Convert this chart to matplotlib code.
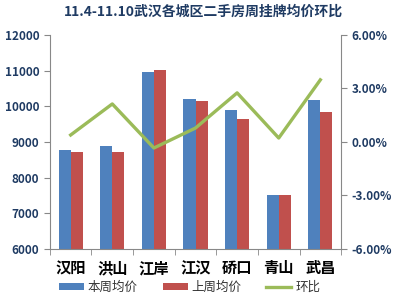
import matplotlib.pyplot as plt
import numpy as np
from matplotlib.ticker import FuncFormatter

plt.rcParams['font.family'] = ['Noto Sans CJK SC', 'DejaVu Sans']

districts = ['汉阳', '洪山', '江岸', '江汉', '硚口', '青山', '武昌']
this_week = [8775, 8890, 10960, 10200, 9900, 7510, 10180]
last_week = [8720, 8720, 11020, 10150, 9640, 7510, 9840]
ratio = [0.39, 2.13, -0.34, 0.78, 2.75, 0.22, 3.48]

blue = '#4F81BD'
red = '#C0504D'
green = '#9BBB59'
navy = '#1F3B63'

fig = plt.figure(figsize=(3.99, 3.02), dpi=100)
ax = fig.add_axes([0.125, 0.1755, 0.73, 0.709])
ax2 = ax.twinx()

x = np.arange(len(districts))
w = 0.29
ax.bar(x - w / 2, this_week, w, color=blue, label='本周均价', zorder=2)
ax.bar(x + w / 2, last_week, w, color=red, label='上周均价', zorder=2)
ax2.plot(x, ratio, color=green, lw=2.4, label='环比')

ax.set_xlim(-0.5, len(districts) - 0.5)
ax.set_ylim(6000, 12000)
ax.set_yticks(range(6000, 12001, 1000))
ax2.set_ylim(-6, 6)
ax2.set_yticks([-6, -3, 0, 3, 6])
ax2.yaxis.set_major_formatter(FuncFormatter(lambda v, p: f'{v:.2f}%'))

ax.set_xticks(x)
ax.set_xticklabels(districts, fontsize=11, fontweight='bold', color='black')
ax.set_xticks(np.arange(-0.5, len(districts)), minor=True)
ax.tick_params(axis='x', which='major', length=0, pad=8)
ax.tick_params(axis='x', which='minor', length=4, color='#888888')
ax.tick_params(axis='y', length=4, color='#888888', labelsize=8.5, labelcolor=navy)
ax2.tick_params(axis='y', length=4, color='#888888', labelsize=8.5, labelcolor=navy)
for t in ax.get_yticklabels() + ax2.get_yticklabels():
    t.set_fontweight('bold')

for a in (ax, ax2):
    a.spines['top'].set_visible(False)
    for s in ('left', 'right', 'bottom'):
        a.spines[s].set_color('#888888')
ax.spines['right'].set_visible(False)
ax2.spines['left'].set_visible(False)
ax2.spines['bottom'].set_visible(False)

fig.suptitle('11.4-11.10武汉各城区二手房周挂牌均价环比', x=0.51, y=0.985,
             fontsize=10, fontweight='bold', color=navy)

h1, l1 = ax.get_legend_handles_labels()
h2, l2 = ax2.get_legend_handles_labels()
leg = fig.legend(h1 + h2, l1 + l2, loc='lower center', bbox_to_anchor=(0.475, -0.01),
                 ncol=3, frameon=False, fontsize=9, handlelength=2.0, handleheight=0.45,
                 handletextpad=0.3, columnspacing=2.0)
for t in leg.get_texts():
    t.set_color('#333333')

fig.savefig('out.png', dpi=100)
